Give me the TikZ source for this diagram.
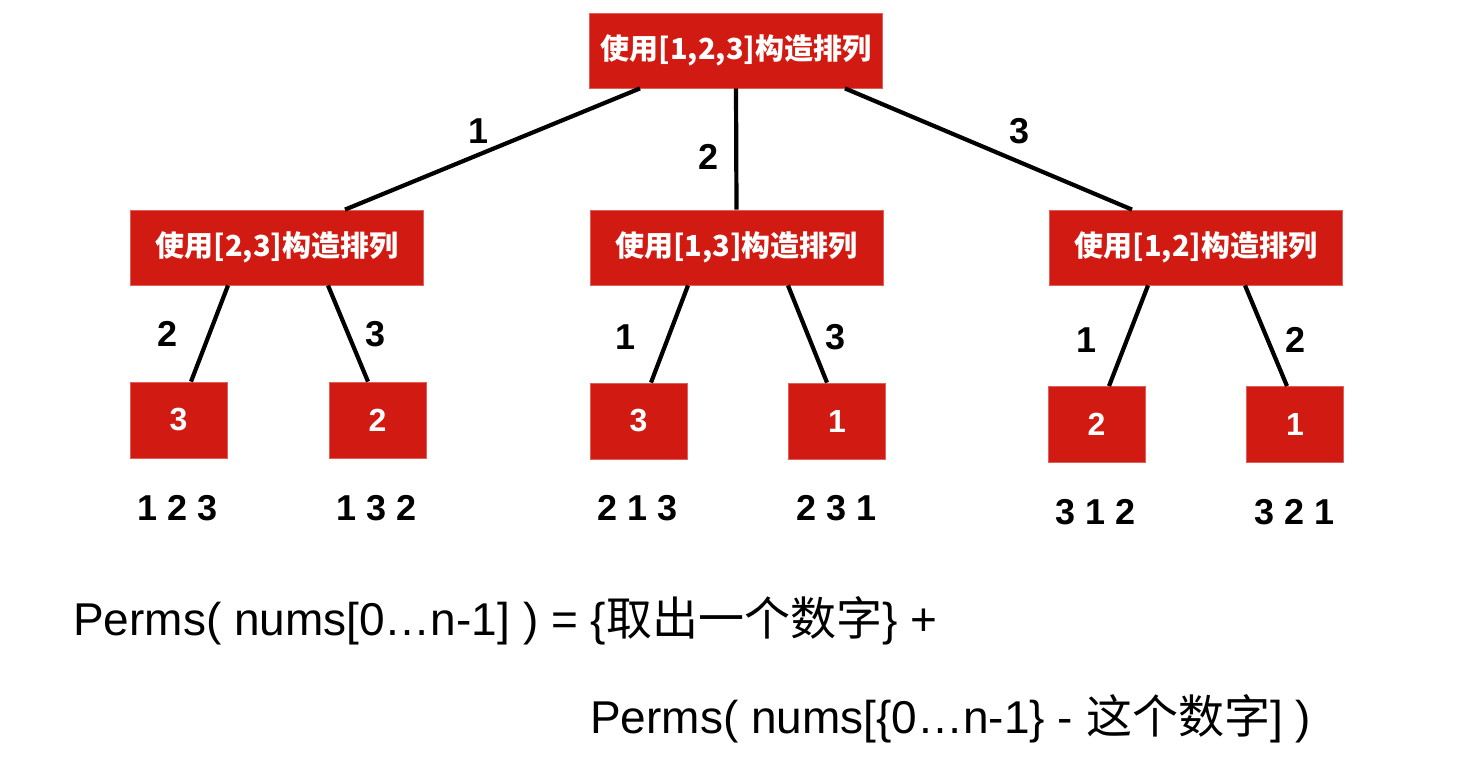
\documentclass[tikz,border=0pt]{standalone}
\usepackage{fontspec}
\setmainfont{Liberation Sans}
\newfontfamily\cjk{Noto Sans CJK SC}
\definecolor{boxred}{RGB}{209,26,18}
\begin{document}
\begin{tikzpicture}[x=1pt,y=-1pt,
  bigbox/.style={fill=boxred,draw=boxred!70!white,line width=0.8pt,minimum width=293pt,minimum height=75pt,inner sep=0pt,text=white,font=\fontsize{29}{32}\selectfont\bfseries},
  leafbox/.style={fill=boxred,draw=boxred!70!white,line width=0.8pt,minimum width=97pt,minimum height=76pt,inner sep=0pt,text=white,font=\fontsize{32}{34}\selectfont\bfseries},
  conn/.style={line width=4.2pt,black},
  elabel/.style={font=\fontsize{36}{38}\selectfont\bfseries,inner sep=0pt},
  perm/.style={font=\fontsize{36}{38}\selectfont\bfseries,inner sep=0pt},
  formula/.style={font=\fontsize{46}{50}\selectfont,inner sep=0pt,anchor=base west}]
\useasboundingbox (0,0) rectangle (1473,763);
\fill[white] (0,0) rectangle (1473,763);
% connectors (drawn first, boxes on top)
\path (736,50.5) node[bigbox] (top) {\cjk 使用[1,2,3]构造排列};
\node[bigbox] (ml) at (277,247.5) {\cjk 使用[2,3]构造排列};
\node[bigbox] (mc) at (736.5,247.5) {\cjk 使用[1,3]构造排列};
\node[bigbox] (mr) at (1196,247.5) {\cjk 使用[1,2]构造排列};
\node[leafbox] (l1) at (178.5,420) {3};
\node[leafbox] (l2) at (377.5,420) {2};
\node[leafbox] (l3) at (638.5,421) {3};
\node[leafbox] (l4) at (837,421) {1};
\node[leafbox] (l5) at (1096.5,424.5) {2};
\node[leafbox] (l6) at (1295,424.5) {1};
\draw[conn] ([xshift=-96pt]top.south) -- ([xshift=68pt]ml.north);
\draw[conn] (top.south) -- (mc.north);
\draw[conn] ([xshift=109pt]top.south) -- ([xshift=-64pt]mr.north);
\draw[conn] ([xshift=-49pt]ml.south) -- ([xshift=12.5pt]l1.north);
\draw[conn] ([xshift=51pt]ml.south) -- ([xshift=-9.5pt]l2.north);
\draw[conn] ([xshift=-48.5pt]mc.south) -- ([xshift=12.5pt]l3.north);
\draw[conn] ([xshift=51.5pt]mc.south) -- ([xshift=-10pt]l4.north);
\draw[conn] ([xshift=-48pt]mr.south) -- ([xshift=12.5pt]l5.north);
\draw[conn] ([xshift=49pt]mr.south) -- ([xshift=-8pt]l6.north);
% edge labels
\node[elabel] (e1) at (479,131) {1};
\node[elabel] (e2) at (709,157) {2};
\node[elabel] (e3) at (1019,131) {3};
\node[elabel] (e4) at (168,334) {2};
\node[elabel] (e5) at (376,334) {3};
\node[elabel] (e6) at (626,337) {1};
\node[elabel] (e7) at (836,337) {3};
\node[elabel] (e8) at (1086,340) {1};
\node[elabel] (e9) at (1295,340) {2};
% permutations
\node[perm] (p1) at (178,508) {1 2 3};
\node[perm] (p2) at (377,508) {1 3 2};
\node[perm] (p3) at (638,508) {2 1 3};
\node[perm] (p4) at (837,508) {2 3 1};
\node[perm] (p5) at (1096,512) {3 1 2};
\node[perm] (p6) at (1295,512) {3 2 1};
% formula
\node[formula] (f1) at (73,635) {Perms( nums[0…n-1] ) = \{{\cjk 取出一个数字}\} +};
\node[formula] (f2) at (590,733) {Perms( nums[\{0…n-1\} - {\cjk 这个数字}] )};
\end{tikzpicture}
\end{document}
